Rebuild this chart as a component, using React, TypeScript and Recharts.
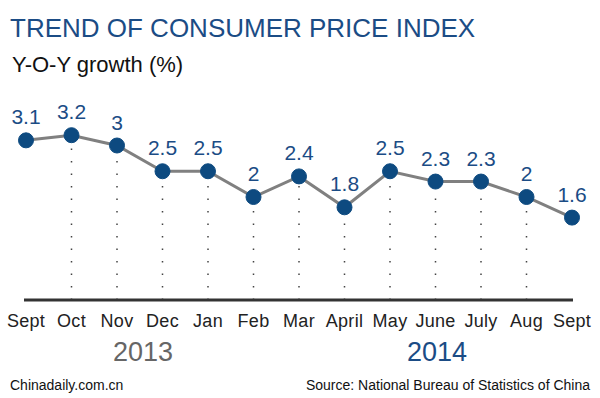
import { LineChart, Line, XAxis, YAxis, ReferenceLine } from 'recharts'

const months = ['Sept', 'Oct', 'Nov', 'Dec', 'Jan', 'Feb', 'Mar', 'April', 'May', 'June', 'July', 'Aug', 'Sept ']
const cpi = [3.1, 3.2, 3, 2.5, 2.5, 2, 2.4, 1.8, 2.5, 2.3, 2.3, 2, 1.6]
const years = ['2013', '2014']

const data = months.map((m, i) => ({ month: m, cpi: cpi[i] }))
// dotted drop lines for every point except the two ends
const drops = data.slice(1, -1)

const FONT = '"Liberation Sans", Arial, sans-serif'
const BLUE = '#1b4c85'

function MonthTick({ x, y, payload }: any) {
  return (
    <text x={x} y={y + 19} textAnchor="middle" fontSize={18} fontFamily={FONT} fill="#222" letterSpacing={0.3}>
      {payload.value.trim()}
    </text>
  )
}

function ValueLabel({ x, y, value }: any) {
  return (
    <text x={x} y={y - 16} textAnchor="middle" fontSize={21} fontFamily={FONT} fill={BLUE}>
      {value}
    </text>
  )
}

export default function App() {
  return (
    <div style={{ position: 'absolute', left: 0, top: 0, width: 600, height: 398, background: '#fff' }}>
      <LineChart width={600} height={398} data={data} margin={{ top: 94, right: 27, bottom: 68, left: 24 }}>
        <YAxis hide domain={[0, 4]} />
        <XAxis
          dataKey="month"
          padding={{ left: 2, right: 1 }}
          axisLine={{ stroke: '#333', strokeWidth: 3 }}
          tickLine={false}
          tick={<MonthTick />}
          interval={0}
          height={30}
        />
        {drops.map((d) => (
          <ReferenceLine
            key={d.month}
            segment={[{ x: d.month, y: 0 }, { x: d.month, y: d.cpi }]}
            stroke="#444"
            strokeWidth={1.5}
            strokeDasharray="1.5 11"
          />
        ))}
        <Line
          dataKey="cpi"
          stroke="#808080"
          strokeWidth={3}
          dot={{ r: 7.5, fill: '#0d4a80', stroke: '#0d4a80', strokeWidth: 1 }}
          activeDot={false}
          label={<ValueLabel />}
          isAnimationActive={false}
        />
      </LineChart>
      <svg width={600} height={398} style={{ position: 'absolute', left: 0, top: 0, pointerEvents: 'none' }}>
        <text x={10} y={37} fontSize={26} fontFamily={FONT} fill={BLUE}>TREND OF CONSUMER PRICE INDEX</text>
        <text x={12} y={72} fontSize={22} fontFamily={FONT} fill="#111">Y-O-Y growth (%)</text>
        <text x={143} y={361} textAnchor="middle" fontSize={27} fontFamily={FONT} fill="#666">{years[0]}</text>
        <text x={437} y={361} textAnchor="middle" fontSize={27} fontFamily={FONT} fill={BLUE}>{years[1]}</text>
        <text x={10} y={390} fontSize={14} fontFamily={FONT} fill="#111">Chinadaily.com.cn</text>
        <text x={590} y={390} textAnchor="end" fontSize={14} fontFamily={FONT} fill="#111">Source: National Bureau of Statistics of China</text>
      </svg>
    </div>
  )
}
